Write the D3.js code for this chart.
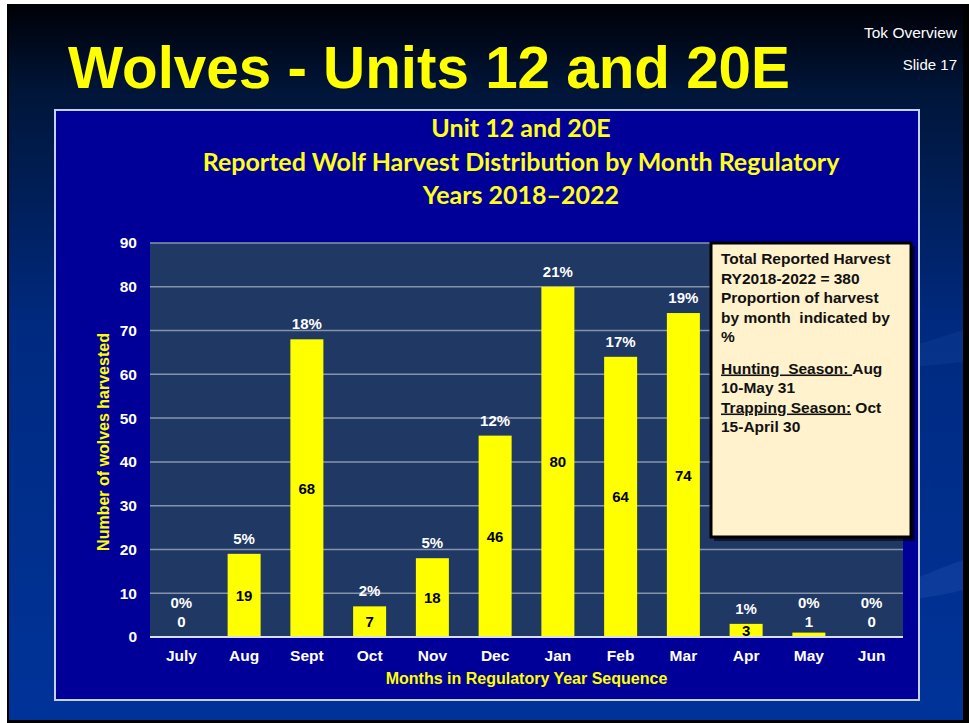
<!DOCTYPE html>
<html>
<head>
<meta charset="utf-8">
<script src="https://cdn.jsdelivr.net/npm/d3@7"></script>
<style>
  html, body { margin: 0; padding: 0; background: #fff; }
  svg { display: block; }
</style>
</head>
<body>
<svg id="chart" width="969" height="723"></svg>
<script>
// Data
const months = ['July', 'Aug', 'Sept', 'Oct', 'Nov', 'Dec', 'Jan', 'Feb', 'Mar', 'Apr', 'May', 'Jun'];
const harvest = [0, 19, 68, 7, 18, 46, 80, 64, 74, 3, 1, 0];
const percents = ['0%', '5%', '18%', '2%', '5%', '12%', '21%', '17%', '19%', '1%', '0%', '0%'];
const yTicks = [0, 10, 20, 30, 40, 50, 60, 70, 80, 90];
const titleLines = ['Unit 12 and 20E', 'Reported Wolf Harvest Distribution by Month Regulatory', 'Years 2018\u20132022'];

const svg = d3.select('#chart');
const W = 969, H = 723;

// Slide background
const defs = svg.append('defs');
const bg = defs.append('linearGradient').attr('id', 'bg')
  .attr('x1', 0).attr('y1', 0).attr('x2', 0).attr('y2', 1);
bg.append('stop').attr('offset', '0%').attr('stop-color', '#000006');
bg.append('stop').attr('offset', '12%').attr('stop-color', '#001538');
bg.append('stop').attr('offset', '45%').attr('stop-color', '#002a80');
bg.append('stop').attr('offset', '100%').attr('stop-color', '#003399');

svg.append('rect').attr('width', W).attr('height', H).attr('fill', '#fff');
svg.append('rect').attr('x', 7).attr('y', 4).attr('width', 962).attr('height', 719).attr('fill', '#000');
svg.append('rect').attr('x', 9).attr('y', 4).attr('width', 954).attr('height', 716).attr('fill', 'url(#bg)');

// faint swooshes on the right
svg.append('path')
  .attr('d', 'M880,595 C910,580 940,568 963,560 L963,590 C940,596 910,600 880,603 Z')
  .attr('fill', '#1a4aa8').attr('opacity', 0.45);
svg.append('path')
  .attr('d', 'M900,350 C925,342 945,336 963,330 L963,362 C945,364 925,366 900,368 Z')
  .attr('fill', '#1a4aa8').attr('opacity', 0.25);

// Slide title + header text
svg.append('text')
  .attr('x', 68).attr('y', 88)
  .attr('font-family', 'Liberation Sans, Arial, sans-serif')
  .attr('font-weight', 'bold').attr('font-size', 60)
  .attr('textLength', 722).attr('lengthAdjust', 'spacingAndGlyphs')
  .attr('fill', '#ffff00')
  .text('Wolves - Units 12 and 20E');

svg.append('text')
  .attr('x', 957).attr('y', 38).attr('text-anchor', 'end')
  .attr('font-family', 'Liberation Sans, Arial, sans-serif').attr('font-size', 15.5)
  .attr('fill', '#fff').text('Tok Overview');
svg.append('text')
  .attr('x', 957).attr('y', 70).attr('text-anchor', 'end')
  .attr('font-family', 'Liberation Sans, Arial, sans-serif').attr('font-size', 15)
  .attr('fill', '#fff').text('Slide 17');

// Chart panel
svg.append('rect')
  .attr('x', 55).attr('y', 110).attr('width', 864).attr('height', 590)
  .attr('fill', '#000099').attr('stroke', '#c4d2f0').attr('stroke-width', 2);

svg.append('g').selectAll('text').data(titleLines).join('text')
  .attr('x', 521).attr('y', (d, i) => 137 + i * 33.5)
  .attr('text-anchor', 'middle')
  .attr('font-family', 'Lato, Open Sans, sans-serif')
  .attr('font-weight', 'bold').attr('font-size', 25)
  .attr('fill', '#ffff1a')
  .text(d => d);

// Plot area
const plot = { left: 150, right: 903, top: 243, bottom: 637 };

const x = d3.scaleBand()
  .domain(months)
  .range([plot.left, plot.right])
  .paddingInner(0.474)
  .paddingOuter(0.237);

const y = d3.scaleLinear()
  .domain([0, 90])
  .range([plot.bottom, plot.top]);

svg.append('rect')
  .attr('x', plot.left).attr('y', plot.top)
  .attr('width', plot.right - plot.left).attr('height', plot.bottom - plot.top)
  .attr('fill', '#203864');

// gridlines
svg.append('g').selectAll('line').data(yTicks.filter(d => d > 0)).join('line')
  .attr('x1', plot.left).attr('x2', plot.right)
  .attr('y1', d => y(d)).attr('y2', d => y(d))
  .attr('stroke', '#8594ac').attr('stroke-width', 1.5);

// y axis labels
const yAxis = svg.append('g')
  .attr('transform', `translate(${plot.left - 13},0)`)
  .call(d3.axisLeft(y).tickValues(yTicks).tickSize(0).tickPadding(0));
yAxis.select('.domain').remove();
yAxis.selectAll('text')
  .attr('font-family', 'Liberation Sans, Arial, sans-serif')
  .attr('font-weight', 'bold').attr('font-size', 15.5)
  .attr('fill', '#fff');

// x axis labels
const xAxis = svg.append('g')
  .attr('transform', `translate(0,${plot.bottom + 13})`)
  .call(d3.axisBottom(x).tickSize(0).tickPadding(0));
xAxis.select('.domain').remove();
xAxis.selectAll('text')
  .attr('font-family', 'Liberation Sans, Arial, sans-serif')
  .attr('font-weight', 'bold').attr('font-size', 15.5)
  .attr('fill', '#fff');

// bars
svg.append('g').selectAll('rect').data(harvest).join('rect')
  .attr('x', (d, i) => x(months[i]))
  .attr('width', x.bandwidth())
  .attr('y', d => y(d))
  .attr('height', d => y(0) - y(d))
  .attr('fill', '#ffff00');

// baseline
svg.append('line')
  .attr('x1', plot.left).attr('x2', plot.right)
  .attr('y1', plot.bottom).attr('y2', plot.bottom)
  .attr('stroke', '#d8e0f0').attr('stroke-width', 2);

// value labels: centred in bar, or above when the bar is too short
const tooShort = d => (y(0) - y(d)) < 10;
svg.append('g').selectAll('text').data(harvest).join('text')
  .attr('x', (d, i) => x(months[i]) + x.bandwidth() / 2)
  .attr('y', d => tooShort(d) ? y(0) - 10 : (y(d) + y(0)) / 2 + 5.5)
  .attr('text-anchor', 'middle')
  .attr('font-family', 'Liberation Sans, Arial, sans-serif')
  .attr('font-weight', 'bold').attr('font-size', 15)
  .attr('fill', d => tooShort(d) ? '#fff' : '#000')
  .text(d => d);

// percent labels
svg.append('g').selectAll('text').data(harvest).join('text')
  .attr('x', (d, i) => x(months[i]) + x.bandwidth() / 2)
  .attr('y', d => tooShort(d) ? y(0) - 29 : y(d) - 10)
  .attr('text-anchor', 'middle')
  .attr('font-family', 'Liberation Sans, Arial, sans-serif')
  .attr('font-weight', 'bold').attr('font-size', 15)
  .attr('fill', '#fff')
  .text((d, i) => percents[i]);

// axis titles
svg.append('text')
  .attr('x', (plot.left + plot.right) / 2).attr('y', 684)
  .attr('text-anchor', 'middle')
  .attr('font-family', 'Liberation Sans, Arial, sans-serif')
  .attr('font-weight', 'bold').attr('font-size', 16)
  .attr('fill', '#ffff00')
  .text('Months in Regulatory Year Sequence');

svg.append('text')
  .attr('transform', `translate(109,${(plot.top + plot.bottom) / 2 + 2}) rotate(-90)`)
  .attr('text-anchor', 'middle')
  .attr('font-family', 'Liberation Sans, Arial, sans-serif')
  .attr('font-weight', 'bold').attr('font-size', 16)
  .attr('fill', '#ffff00')
  .text('Number of wolves harvested');

// note box
const note = svg.append('g');
note.append('rect')
  .attr('x', 714).attr('y', 246).attr('width', 201).attr('height', 295)
  .attr('fill', '#000').attr('opacity', 0.6);
note.append('rect')
  .attr('x', 711).attr('y', 243).attr('width', 200).attr('height', 294)
  .attr('fill', '#fff2cc').attr('stroke', '#000').attr('stroke-width', 3);

const noteLines = [
  [{ t: 'Total Reported Harvest' }],
  [{ t: 'RY2018-2022 = 380' }],
  [{ t: 'Proportion of harvest' }],
  [{ t: 'by month  indicated by' }],
  [{ t: '%' }],
  null,
  [{ t: 'Hunting  Season: ', u: true }, { t: 'Aug' }],
  [{ t: '10-May 31' }],
  [{ t: 'Trapping Season:', u: true }, { t: ' Oct' }],
  [{ t: '15-April 30' }]
];
let ly = 264;
noteLines.forEach(line => {
  if (!line) { ly += 12; return; }
  const t = note.append('text')
    .attr('x', 721).attr('y', ly)
    .attr('font-family', 'Liberation Sans, Arial, sans-serif')
    .attr('font-weight', 'bold').attr('font-size', 15.5)
    .attr('fill', '#111')
    .attr('xml:space', 'preserve');
  line.forEach(p => {
    t.append('tspan').attr('text-decoration', p.u ? 'underline' : null).text(p.t);
  });
  ly += 19.5;
});
</script>
</body>
</html>
